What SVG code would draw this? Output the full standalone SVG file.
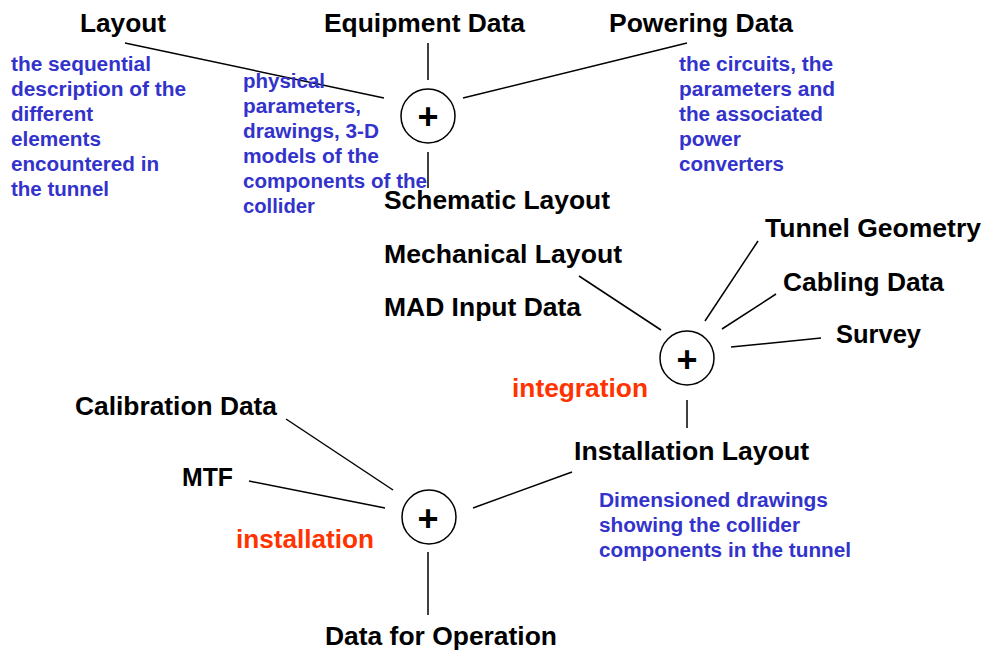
<svg xmlns="http://www.w3.org/2000/svg" width="984" height="650" viewBox="0 0 984 650">
<style>
.lbl{font-family:"Liberation Sans",Arial,sans-serif;font-weight:bold;font-size:25px;fill:#000}
.note{font-family:"Liberation Sans",Arial,sans-serif;font-weight:bold;font-size:20px;fill:#3333cc}
.op{font-family:"Liberation Sans",Arial,sans-serif;font-weight:bold;font-size:25px;fill:#ff3300}
.plus{font-family:"Liberation Sans",Arial,sans-serif;font-weight:bold;font-size:36px;fill:#000;text-anchor:middle}
.sum{fill:#fff;stroke:#000;stroke-width:1.5}
.conn line{stroke:#000;stroke-width:1.5;fill:none}
</style>
<rect width="984" height="650" fill="#fff"/>

<g id="connectors" class="conn">
<line x1="125" y1="43" x2="384" y2="98"/>
<line x1="428" y1="43" x2="428" y2="80"/>
<line x1="428" y1="152" x2="428" y2="188"/>
<line x1="463" y1="98" x2="687" y2="43"/>
<line x1="579" y1="276" x2="661" y2="330"/>
<line x1="758" y1="241" x2="705" y2="321"/>
<line x1="776" y1="294" x2="722" y2="329"/>
<line x1="821" y1="338" x2="731" y2="347"/>
<line x1="687" y1="400" x2="687" y2="428"/>
<line x1="572" y1="472" x2="473" y2="508"/>
<line x1="286" y1="419" x2="393" y2="490"/>
<line x1="249" y1="481" x2="385" y2="508"/>
<line x1="428" y1="552" x2="428" y2="615"/>
</g>

<g id="layout">
<text class="lbl" x="80" y="32" textLength="86" lengthAdjust="spacingAndGlyphs">Layout</text>
<text class="note" x="11" y="71" textLength="140" lengthAdjust="spacingAndGlyphs">the sequential</text>
<text class="note" x="11" y="96" textLength="175" lengthAdjust="spacingAndGlyphs">description of the</text>
<text class="note" x="11" y="121" textLength="82" lengthAdjust="spacingAndGlyphs">different</text>
<text class="note" x="11" y="146" textLength="90" lengthAdjust="spacingAndGlyphs">elements</text>
<text class="note" x="11" y="171" textLength="148" lengthAdjust="spacingAndGlyphs">encountered in</text>
<text class="note" x="11" y="196" textLength="98" lengthAdjust="spacingAndGlyphs">the tunnel</text>
</g>

<g id="equipment-data">
<text class="lbl" x="324" y="32" textLength="201" lengthAdjust="spacingAndGlyphs">Equipment Data</text>
<text class="note" x="243" y="88" textLength="82" lengthAdjust="spacingAndGlyphs">physical</text>
<text class="note" x="243" y="113" textLength="118" lengthAdjust="spacingAndGlyphs">parameters,</text>
<text class="note" x="243" y="138" textLength="136" lengthAdjust="spacingAndGlyphs">drawings, 3-D</text>
<text class="note" x="243" y="163" textLength="136" lengthAdjust="spacingAndGlyphs">models of the</text>
<text class="note" x="243" y="188" textLength="184" lengthAdjust="spacingAndGlyphs">components of the</text>
<text class="note" x="243" y="213" textLength="72" lengthAdjust="spacingAndGlyphs">collider</text>
</g>

<g id="powering-data">
<text class="lbl" x="609" y="32" textLength="184" lengthAdjust="spacingAndGlyphs">Powering Data</text>
<text class="note" x="679" y="71" textLength="154" lengthAdjust="spacingAndGlyphs">the circuits, the</text>
<text class="note" x="679" y="96" textLength="156" lengthAdjust="spacingAndGlyphs">parameters and</text>
<text class="note" x="679" y="121" textLength="144" lengthAdjust="spacingAndGlyphs">the associated</text>
<text class="note" x="679" y="146" textLength="62" lengthAdjust="spacingAndGlyphs">power</text>
<text class="note" x="679" y="171" textLength="105" lengthAdjust="spacingAndGlyphs">converters</text>
</g>

<g id="sum-1">
<circle class="sum" cx="428" cy="116" r="27"/>
<text class="plus" x="428" y="129">+</text>
</g>

<g id="schematic-layout"><text class="lbl" x="384" y="209" textLength="226" lengthAdjust="spacingAndGlyphs">Schematic Layout</text></g>
<g id="mechanical-layout"><text class="lbl" x="384" y="263" textLength="238" lengthAdjust="spacingAndGlyphs">Mechanical Layout</text></g>
<g id="mad-input-data"><text class="lbl" x="384" y="316" textLength="197" lengthAdjust="spacingAndGlyphs">MAD Input Data</text></g>
<g id="tunnel-geometry"><text class="lbl" x="765" y="237" textLength="216" lengthAdjust="spacingAndGlyphs">Tunnel Geometry</text></g>
<g id="cabling-data"><text class="lbl" x="783" y="291" textLength="161" lengthAdjust="spacingAndGlyphs">Cabling Data</text></g>
<g id="survey"><text class="lbl" x="836" y="343" textLength="85" lengthAdjust="spacingAndGlyphs">Survey</text></g>

<g id="sum-integration">
<circle class="sum" cx="687" cy="358" r="27"/>
<text class="plus" x="687" y="372">+</text>
<text class="op" x="512" y="397" textLength="136" lengthAdjust="spacingAndGlyphs">integration</text>
</g>

<g id="installation-layout">
<text class="lbl" x="574" y="460" textLength="235" lengthAdjust="spacingAndGlyphs">Installation Layout</text>
<text class="note" x="599" y="507" textLength="229" lengthAdjust="spacingAndGlyphs">Dimensioned drawings</text>
<text class="note" x="599" y="532" textLength="201" lengthAdjust="spacingAndGlyphs">showing the collider</text>
<text class="note" x="599" y="557" textLength="252" lengthAdjust="spacingAndGlyphs">components in the tunnel</text>
</g>

<g id="calibration-data"><text class="lbl" x="75" y="415" textLength="202" lengthAdjust="spacingAndGlyphs">Calibration Data</text></g>
<g id="mtf"><text class="lbl" x="182" y="486" textLength="51" lengthAdjust="spacingAndGlyphs">MTF</text></g>

<g id="sum-installation">
<circle class="sum" cx="429" cy="517" r="27"/>
<text class="plus" x="428" y="531">+</text>
<text class="op" x="236" y="548" textLength="138" lengthAdjust="spacingAndGlyphs">installation</text>
</g>

<g id="data-for-operation"><text class="lbl" x="325" y="645" textLength="232" lengthAdjust="spacingAndGlyphs">Data for Operation</text></g>
</svg>
